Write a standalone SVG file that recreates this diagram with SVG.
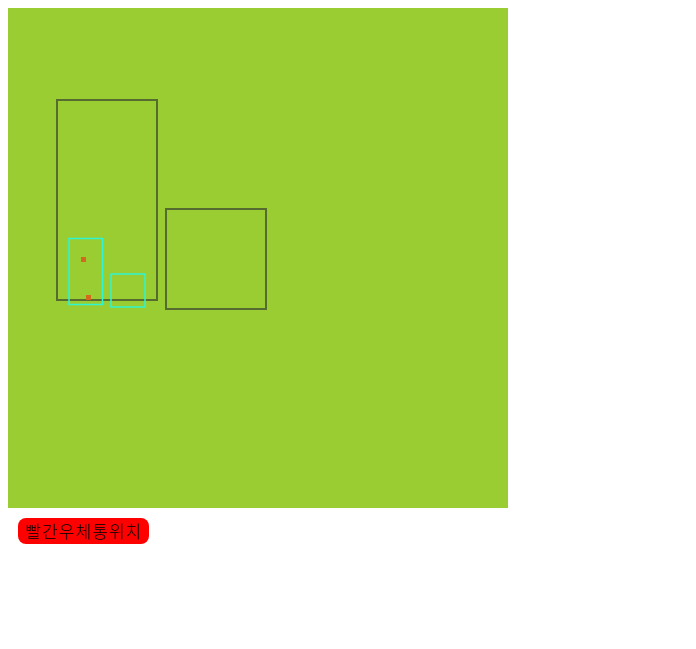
<svg xmlns="http://www.w3.org/2000/svg" width="696" height="649" viewBox="0 0 696 649">
<style>
.box{fill:none;stroke:#556b2f;stroke-width:2}
.zone{fill:none;stroke:#2ef5d2;stroke-width:1.5}
.pt{fill:#d2691e}
.lbl{font-family:"Noto Sans CJK KR","Noto Sans",sans-serif;font-size:17px;font-weight:300;fill:#000}
</style>
<rect x="0" y="0" width="696" height="649" fill="#ffffff"/>
<rect x="8" y="8" width="500" height="500" fill="#9acd32"/>
<g id="nodes">
<g id="building1"><rect class="box" x="57" y="100" width="100" height="200"/></g>
<g id="building2"><rect class="box" x="166" y="209" width="100" height="100"/></g>
<g id="zone1"><rect class="zone" x="69" y="238.5" width="33.5" height="66"/></g>
<g id="zone2"><rect class="zone" x="111" y="274" width="34" height="33"/></g>
<g id="point1"><rect class="pt" x="81" y="257" width="5" height="5"/></g>
<g id="point2"><rect class="pt" x="86" y="295" width="5" height="5"/></g>
</g>
<g id="connectors"></g>
<g id="legend">
<rect x="18" y="518" width="131" height="26" rx="8" ry="8" fill="#ff0000"/>
<text class="lbl" x="25" y="538" textLength="116" lengthAdjust="spacing">빨간우체통위치</text>
</g>
</svg>
